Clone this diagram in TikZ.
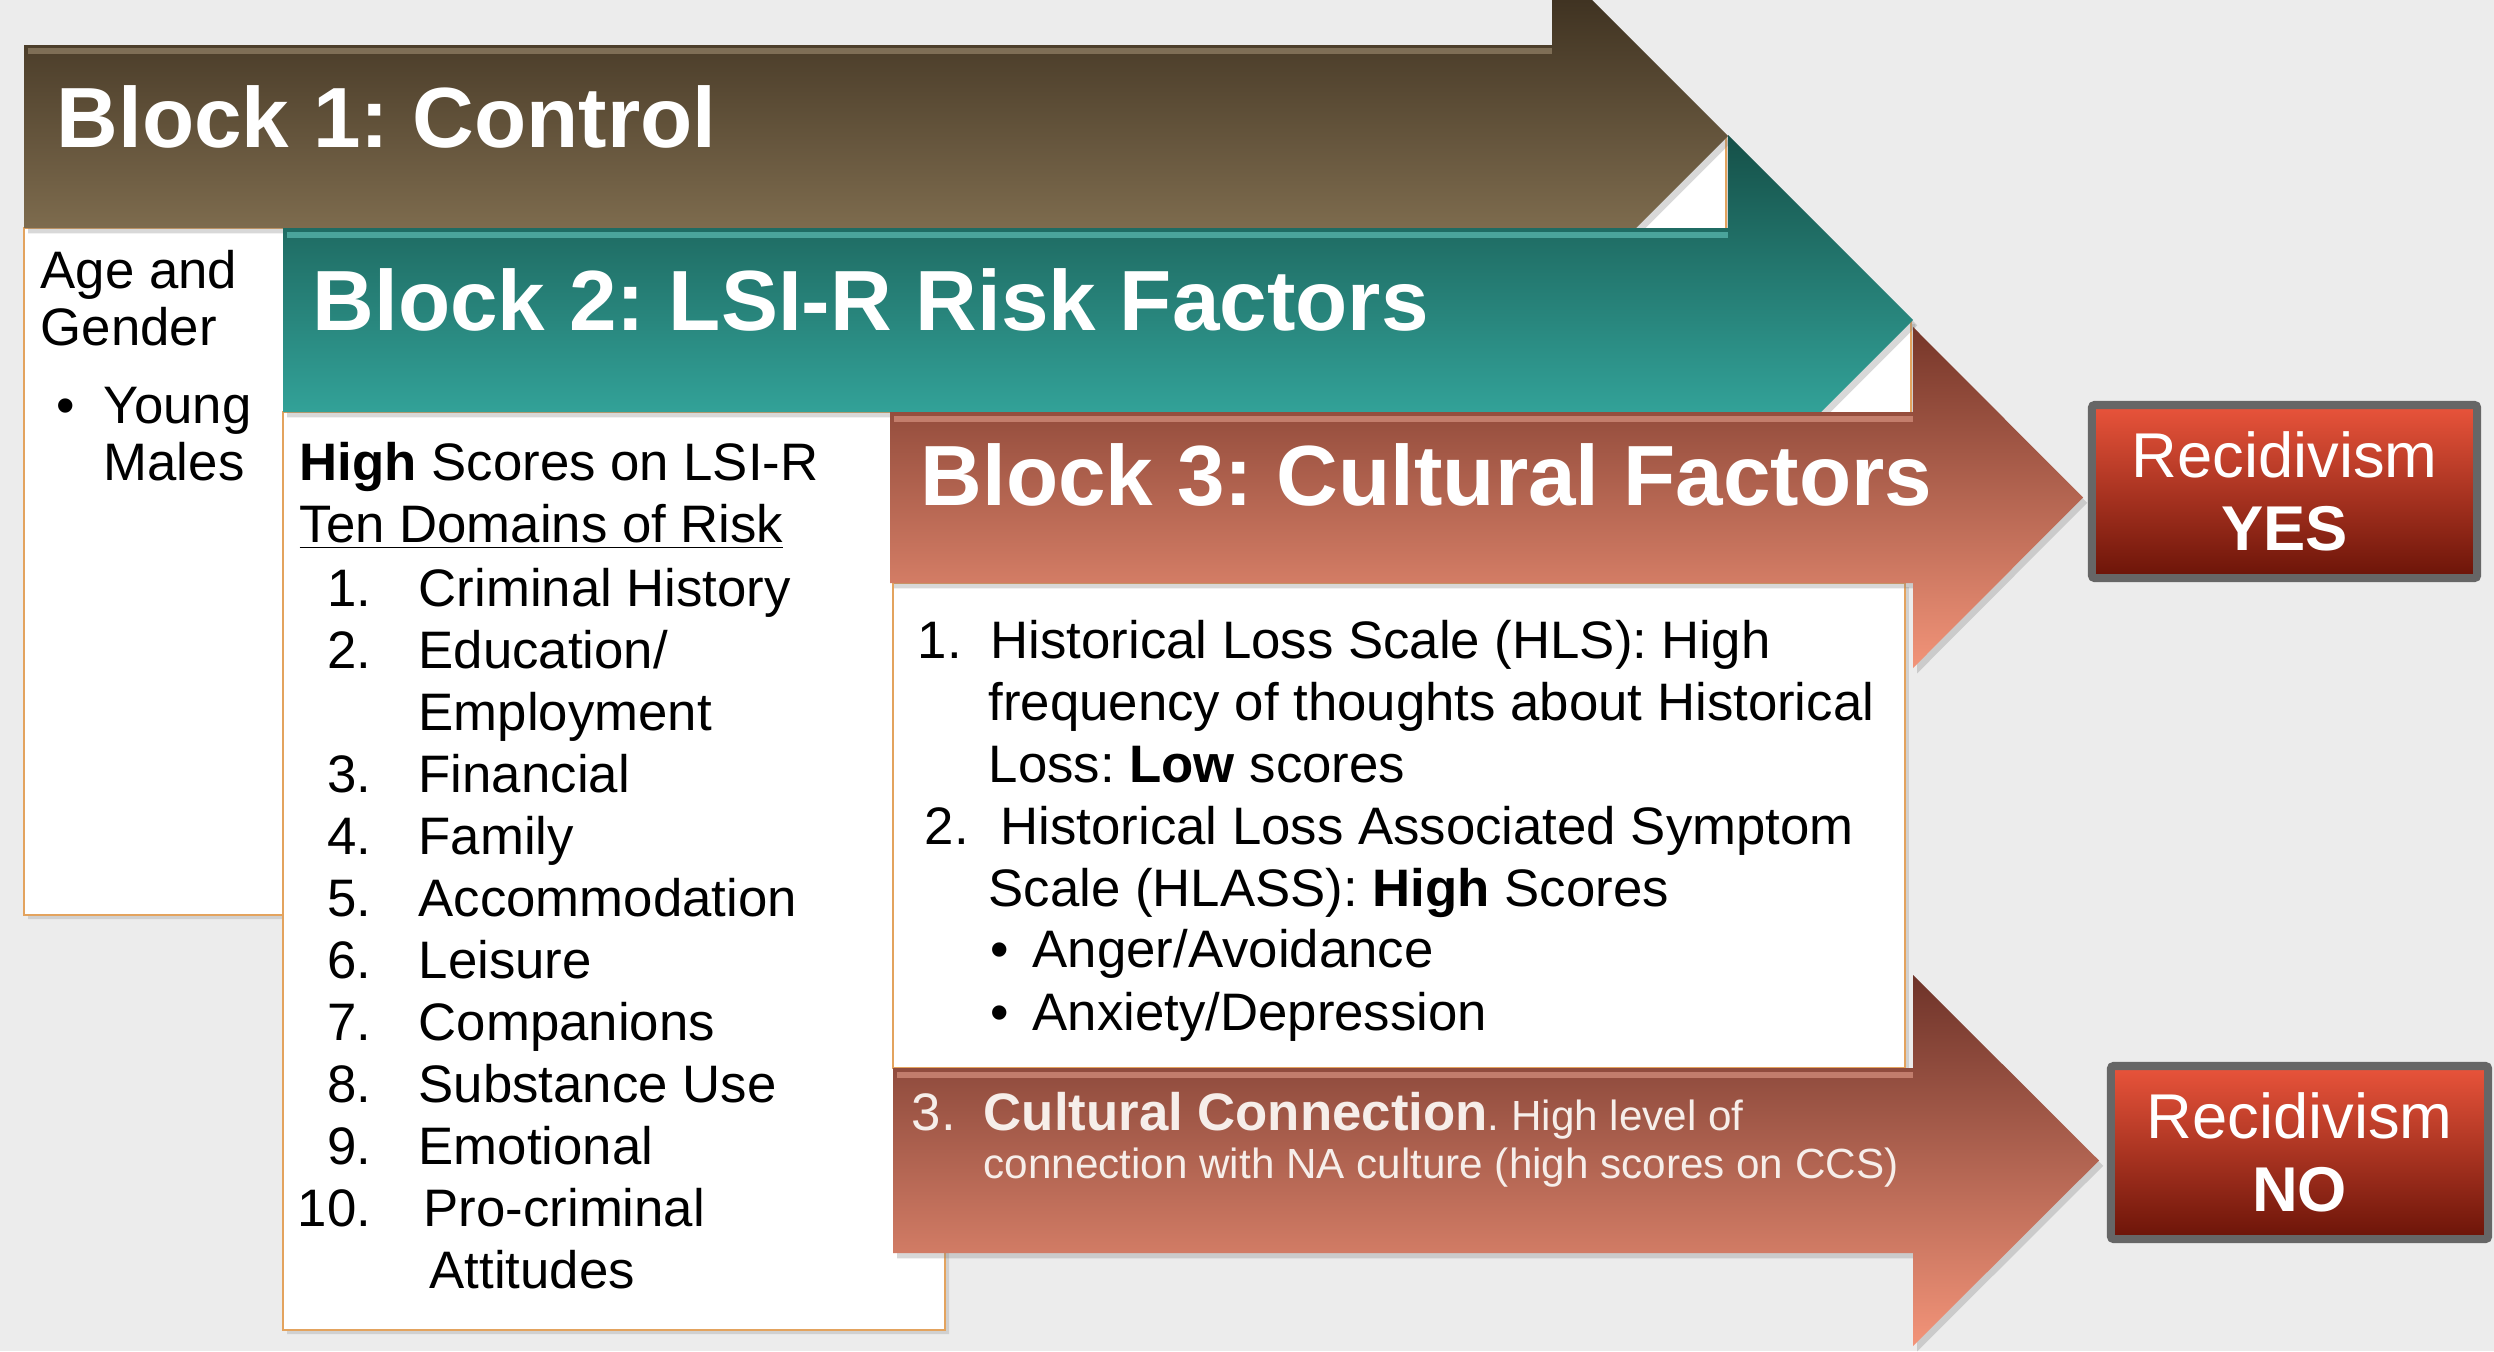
\documentclass[tikz,border=0pt]{standalone}
\usepackage{fontspec}
\setmainfont{Liberation Sans}
\usetikzlibrary{shadows}
\frenchspacing

% palette
\definecolor{bgc}{HTML}{ECECEC}
\definecolor{brownTop}{HTML}{35291A}
\definecolor{brownBot}{HTML}{94805E}
\definecolor{brownHi}{HTML}{A8957A}
\definecolor{tealTop}{HTML}{155048}
\definecolor{tealBot}{HTML}{3CBDB3}
\definecolor{tealHi}{HTML}{6ED2C9}
\definecolor{salTopA}{HTML}{763629}
\definecolor{salBotA}{HTML}{F29479}
\definecolor{salTopB}{HTML}{6E3329}
\definecolor{salBotB}{HTML}{F39479}
\definecolor{salHi}{HTML}{E9A592}
\definecolor{redTop}{HTML}{E9543B}
\definecolor{redBot}{HTML}{6B1408}
\definecolor{frameGray}{HTML}{666666}
\definecolor{boxEdge}{HTML}{E3A35E}
\definecolor{lightText}{HTML}{F6EEEA}

\tikzset{
  textbox/.style={fill=white, draw=boxEdge, line width=0.6pt,
    drop shadow={shadow xshift=1.2pt, shadow yshift=-1.2pt, opacity=0.25}},
  arrowshape/.style={drop shadow={shadow xshift=1.2pt, shadow yshift=-1.5pt, opacity=0.3}},
  bevel/.style={line width=1.6pt, opacity=0.55},
  blocktitle/.style={anchor=base west, inner sep=0pt, text=white,
    font=\fontsize{24.3}{29}\selectfont\bfseries},
  bodytext/.style={anchor=base west, inner sep=0pt, text=black,
    font=\fontsize{15}{18}\selectfont},
  numtext/.style={bodytext, anchor=base east},
  smalltext/.style={anchor=base west, inner sep=0pt, text=lightText,
    font=\fontsize{12}{14}\selectfont},
  resultbox/.style={draw=frameGray, line width=2.3pt, top color=redTop,
    bottom color=redBot, minimum height=1.73cm, inner sep=0pt,
    align=center, text=white, font=\fontsize{18}{20.8}\selectfont,
    rounded corners=0.8pt},
}

\begin{document}
\begin{tikzpicture}[x=0.01cm, y=-0.01cm]
\useasboundingbox (0,0) rectangle (2494,1351);
\clip (0,0) rectangle (2494,1351);
\fill[bgc] (0,0) rectangle (2494,1351);

% ---- Block 1: text box and arrow
\path[textbox] (24,228) -- (1552,228) -- (1552,136) -- (1726,136)
  -- (1726,915) -- (24,915) -- cycle;
\path[arrowshape, top color=brownTop, bottom color=brownBot]
  (24,45) -- (1552,45) -- (1552,-40) -- (1728,136) -- (1552,312)
  -- (1552,228) -- (24,228) -- cycle;
\draw[bevel, draw=brownHi] (28,51) -- (1552,51);

% ---- Block 2: text box and arrow
\path[textbox] (283,412) -- (1728,412) -- (1728,320) -- (1911,320)
  -- (1911,500) -- (1890,500) -- (1890,1068) -- (945,1068)
  -- (945,1330) -- (283,1330) -- cycle;
\path[arrowshape, top color=tealTop, bottom color=tealBot]
  (283,228) -- (1728,228) -- (1728,135) -- (1913,320) -- (1728,505)
  -- (1728,412) -- (283,412) -- cycle;
\draw[bevel, draw=tealHi] (287,235) -- (1728,235);

% ---- Block 3: text box and two arrows
\path[textbox] (893,583) rectangle (1905,1068);
\path[arrowshape, top color=salTopA, bottom color=salBotA]
  (890,412) -- (1913,412) -- (1913,327) -- (2083,497.5) -- (1913,668)
  -- (1913,583) -- (890,583) -- cycle;
\draw[bevel, draw=salHi] (894,419) -- (1913,419);
\path[arrowshape, top color=salTopB, bottom color=salBotB]
  (893,1068) -- (1913,1068) -- (1913,975) -- (2099,1160.5) -- (1913,1346)
  -- (1913,1253) -- (893,1253) -- cycle;
\draw[bevel, draw=salHi] (897,1075) -- (1913,1075);

% ---- outcomes
\node[resultbox, minimum width=3.85cm] (yes) at (2284.5,491.5)
  {Recidivism\\\textbf{YES}};
\node[resultbox, minimum width=3.77cm] (no) at (2299.5,1152.5)
  {Recidivism\\\textbf{NO}};

% ---- Block 1 texts
\node[blocktitle] (t1) at (56,147) {Block 1: Control};
\node[bodytext] (ag1) at (40,288) {Age and};
\node[bodytext] (ag2) at (40,345) {Gender};
\node[bodytext] (ymb) at (56,423) {\textbullet};
\node[bodytext] (ym1) at (103,423) {Young};
\node[bodytext] (ym2) at (103,480) {Males};

% ---- Block 2 texts
\node[blocktitle] (t2) at (312,330) {Block 2: LSI-R Risk Factors};
\node[bodytext] (hs) at (299,480) {\textbf{High} Scores on LSI-R};
\node[bodytext] (td) at (299,542) {\underline{Ten Domains of Risk}};
\foreach \n/\txt/\yy in {1/Criminal History/606, 2/{Education/}/668,
    3/Financial/792, 4/Family/854, 5/Accommodation/916, 6/Leisure/978,
    7/Companions/1040, 8/Substance Use/1102, 9/Emotional/1164}{
  \node[numtext] (dn\n) at (372,\yy) {\n.};
  \node[bodytext] (dt\n) at (418,\yy) {\txt};
}
\node[bodytext] (dt2b) at (418,730) {Employment};
\node[numtext] (dn10) at (372,1226) {10.};
\node[bodytext] (dt10) at (423,1226) {Pro-criminal};
\node[bodytext] (dt10b) at (429,1288) {Attitudes};

% ---- Block 3 texts
\node[blocktitle] (t3) at (920,505) {Block 3: Cultural Factors};
\node[bodytext] (h1n) at (917,658) {1.};
\node[bodytext] (h1a) at (990,658) {Historical Loss Scale (HLS): High};
\node[bodytext] (h1b) at (988,720) {frequency of thoughts about Historical};
\node[bodytext] (h1c) at (988,782) {Loss: \textbf{Low} scores};
\node[bodytext] (h2n) at (924,844) {2.};
\node[bodytext] (h2a) at (1000,844) {Historical Loss Associated Symptom};
\node[bodytext] (h2b) at (988,906) {Scale (HLASS): \textbf{High} Scores};
\node[bodytext] (s1d) at (990,967) {\textbullet};
\node[bodytext] (s1) at (1032,967) {Anger/Avoidance};
\node[bodytext] (s2d) at (990,1030) {\textbullet};
\node[bodytext] (s2) at (1032,1030) {Anxiety/Depression};

\node[bodytext, text=lightText] (c3n) at (911,1130) {3.};
\node[anchor=base west, inner sep=0pt, text=lightText] (c3a) at (983,1130)
  {\fontsize{15}{18}\selectfont\bfseries Cultural Connection%
   \fontsize{12}{14}\selectfont\mdseries. High level of};
\node[smalltext] (c3b) at (983,1178)
  {connection with NA culture (high scores on CCS)};
\end{tikzpicture}
\end{document}
